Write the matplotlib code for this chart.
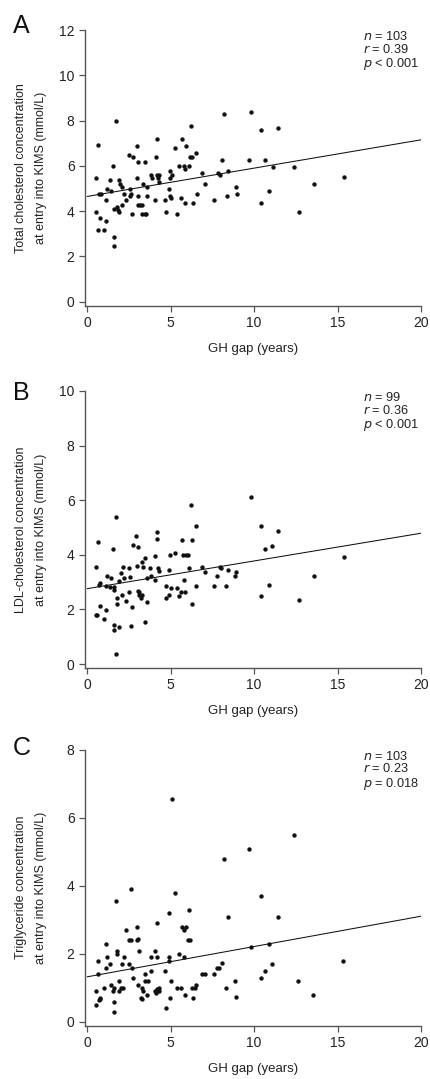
import matplotlib
matplotlib.use("Agg")
import matplotlib.pyplot as plt
import numpy as np

plt.rcParams['font.family'] = ['Liberation Sans', 'DejaVu Sans']

# --- data ---
# Panel A: total cholesterol
gap_a = [0.66, 1.72, 0.54, 0.54, 0.62, 0.78, 0.98, 1.1, 0.7, 0.8, 1.1, 1.2, 1.38, 1.4, 1.52, 1.6,
         1.76, 1.82, 1.9, 1.92, 1.96, 2.06, 2.08, 2.18, 1.6, 1.6, 2.32, 2.48, 2.58, 2.56, 2.62, 2.66,
         2.76, 2.98, 2.98, 3.02, 3.04, 3.04, 3.16, 3.26, 3.32, 3.3, 3.44, 3.48, 3.52, 3.6, 3.6, 3.8,
         3.88, 4.04, 4.14, 4.18, 4.2, 4.24, 4.3, 4.28, 4.66, 4.74, 4.94, 4.96, 4.92, 4.98, 5.04, 5.08,
         5.26, 5.4, 5.48, 5.62, 5.68, 5.78, 5.84, 5.9, 5.88, 6.08, 6.2, 6.14, 6.28, 6.32, 6.52, 6.56,
         6.9, 7.06, 7.6, 7.82, 7.98, 8.08, 8.2, 8.36, 8.46, 8.9, 8.98, 9.82, 9.72,
         10.44, 11.44, 10.68, 11.1, 12.38, 15.36, 13.56, 10.9, 10.44, 12.66]
chol_a = [6.9, 8.0, 5.48, 3.98, 3.18, 3.68, 3.18, 3.58, 4.77, 4.77, 4.48, 4.98, 5.38, 4.89, 5.98, 4.09,
          4.17, 4.05, 5.38, 3.98, 5.18, 4.27, 5.05, 4.77, 2.87, 2.47, 4.48, 6.48, 4.98, 4.68, 4.74, 3.89,
          6.38, 6.89, 5.48, 6.17, 4.68, 4.29, 4.29, 4.29, 5.18, 3.89, 3.89, 6.17, 3.89, 5.08, 4.68, 5.58,
          5.48, 4.48, 6.38, 7.19, 5.58, 5.48, 5.58, 5.27, 4.48, 3.98, 5.48, 5.77, 4.98, 4.68, 4.58, 5.58,
          6.77, 3.89, 5.98, 4.58, 7.19, 5.98, 5.88, 6.89, 4.37, 5.98, 7.78, 6.38, 6.38, 4.37, 6.58, 4.77,
          5.68, 5.18, 4.48, 5.68, 5.58, 6.27, 8.29, 4.68, 5.77, 5.08, 4.77, 8.38, 6.27,
          7.6, 7.69, 6.28, 5.97, 5.97, 5.49, 5.18, 4.88, 4.38, 3.98]

# Panel B: LDL cholesterol
gap_b = [0.52, 0.64, 0.5, 0.6, 0.7, 0.78, 0.78, 0.98, 1.1, 1.1, 1.2, 1.36, 1.4, 1.52, 1.6, 1.6,
         1.62, 1.62, 1.72, 1.8, 1.8, 1.9, 1.92, 2.0, 2.08, 2.14, 2.2, 2.34, 2.48, 2.5, 2.58, 2.66,
         2.64, 2.74, 2.94, 3.0, 3.02, 3.04, 3.08, 3.12, 3.2, 3.28, 3.3, 3.32, 3.44, 3.48, 3.56, 3.58,
         3.78, 3.84, 4.04, 4.08, 4.16, 4.18, 4.22, 4.3, 4.7, 4.74, 4.9, 4.92, 4.96, 5.04, 5.26, 5.38,
         5.48, 5.6, 5.68, 5.76, 5.82, 5.86, 5.9, 6.06, 6.12, 6.2, 6.3, 6.28, 6.52, 6.54, 6.88, 7.06,
         7.58, 7.78, 7.96, 8.04, 8.34, 8.46, 8.84, 8.92, 9.8,
         10.42, 11.42, 11.08, 10.68, 15.36, 13.56, 10.9, 10.44, 12.66, 1.72]
ldl_b = [3.55, 4.48, 1.8, 1.8, 2.89, 2.97, 2.13, 1.64, 1.99, 2.84, 3.23, 2.81, 3.16, 4.2, 2.83, 2.72,
         1.44, 1.25, 5.39, 2.4, 2.2, 3.05, 1.37, 3.34, 2.53, 3.55, 3.16, 2.29, 3.51, 2.62, 3.2, 2.08,
         1.39, 4.37, 4.69, 3.6, 2.68, 4.27, 2.62, 2.52, 2.4, 3.72, 2.54, 3.57, 1.55, 3.87, 3.14, 2.28,
         3.53, 3.24, 3.96, 3.09, 4.82, 4.59, 3.53, 3.39, 2.84, 2.4, 2.54, 3.43, 3.98, 2.78, 4.05, 2.78,
         2.5, 2.63, 4.53, 3.98, 3.07, 2.62, 4.0, 4.0, 3.51, 5.81, 2.18, 4.54, 5.04, 2.84, 3.57, 3.38,
         2.87, 3.24, 3.57, 3.51, 2.84, 3.46, 3.24, 3.36, 6.1,
         5.05, 4.88, 4.33, 4.21, 3.92, 3.22, 2.9, 2.49, 2.34, 0.37]

# Panel C: triglyceride
gap_c = [0.52, 0.54, 0.64, 0.64, 0.68, 0.74, 0.78, 0.98, 1.1, 1.1, 1.2, 1.36, 1.42, 1.52, 1.6, 1.6,
         1.6, 1.7, 1.78, 1.8, 1.9, 1.92, 2.0, 2.08, 2.14, 2.18, 2.34, 2.48, 2.5, 2.6, 2.64, 2.66,
         2.76, 2.98, 2.96, 3.04, 3.06, 3.12, 3.2, 3.3, 3.28, 3.36, 3.46, 3.48, 3.58, 3.62, 3.8, 3.82,
         4.04, 4.08, 4.12, 4.16, 4.2, 4.2, 4.28, 4.3, 4.68, 4.74, 4.9, 4.9, 4.92, 4.96, 5.02, 5.1,
         5.26, 5.38, 5.48, 5.6, 5.68, 5.78, 5.82, 5.86, 5.92, 6.04, 6.12, 6.16, 6.3, 6.32, 6.46, 6.54,
         6.88, 7.06, 7.58, 7.78, 7.92, 8.06, 8.18, 8.34, 8.44, 8.88, 8.94, 9.7, 9.8,
         12.36, 10.4, 11.4, 10.88, 15.32, 11.08, 10.66, 10.42, 12.64, 13.52]
tg_c = [0.49, 0.9, 1.79, 1.4, 0.63, 0.67, 0.7, 0.99, 2.29, 1.59, 1.89, 1.69, 1.08, 0.9, 0.59, 0.29,
        0.99, 3.54, 2.09, 2.0, 1.19, 0.9, 0.99, 1.69, 0.99, 1.89, 2.69, 2.39, 1.69, 2.39, 3.89, 1.59,
        1.28, 2.79, 2.39, 1.08, 2.42, 2.09, 0.69, 1.0, 0.66, 0.89, 1.19, 1.39, 0.79, 1.19, 1.5, 1.89,
        2.09, 0.9, 0.83, 2.9, 1.89, 0.96, 0.99, 0.9, 1.5, 0.39, 3.19, 1.79, 1.89, 0.69, 1.19, 6.54,
        3.79, 0.99, 2.0, 0.99, 2.79, 1.89, 2.69, 0.79, 2.79, 2.39, 3.29, 2.39, 0.99, 0.69, 0.99, 1.09,
        1.39, 1.39, 1.39, 1.59, 1.59, 1.73, 4.78, 0.99, 3.09, 1.19, 0.72, 5.09, 2.19,
        5.48, 3.69, 3.08, 2.29, 1.79, 1.69, 1.5, 1.29, 1.19, 0.78]

# regression lines: value at gap 0 and at gap 20
fit_a = [4.65, 7.15]
fit_b = [2.76, 4.79]
fit_c = [1.32, 3.10]

letters = ["A", "B", "C"]
ylabels = ["Total cholesterol concentration\nat entry into KIMS (mmol/L)",
           "LDL-cholesterol concentration\nat entry into KIMS (mmol/L)",
           "Triglyceride concentration\nat entry into KIMS (mmol/L)"]
ymaxes = [12, 10, 8]
ysteps = [2, 2, 2]
stats = [["103", "0.39", "< 0.001"],
         ["99", "0.36", "< 0.001"],
         ["103", "0.23", "= 0.018"]]
xticks = [0, 5, 10, 15, 20]

panels = [(gap_a, chol_a, fit_a), (gap_b, ldl_b, fit_b), (gap_c, tg_c, fit_c)]

W, H = 430, 1079
fig = plt.figure(figsize=(W / 100, H / 100), dpi=100)

# axes boxes in pixels: (top, bottom)
boxes = [(30, 305.7), (391, 668), (749.5, 1025.7)]
letter_base = [33, 400, 755]
left_px, right_px = 85, 421
spine_col = '#555555'
text_col = '#222222'

for i, (gx, gy, fit) in enumerate(panels):
    top, bot = boxes[i]
    ax = fig.add_axes([left_px / W, 1 - bot / H, (right_px - left_px) / W, (bot - top) / H])
    ymax = ymaxes[i]
    data_h = 273.0
    ax.set_ylim(-4 * ymax / data_h, ymax)
    ax.set_xlim(-2.3 * 20 / 334, 20)

    ax.scatter(gx, gy, s=10, color='#111111', linewidths=0, zorder=3)
    ax.plot([0, 20], fit, color='#111111', lw=0.75, zorder=2)

    for s in ['top', 'right']:
        ax.spines[s].set_visible(False)
    for s in ['left', 'bottom']:
        ax.spines[s].set_color(spine_col)
        ax.spines[s].set_linewidth(1.0)
    ax.set_xticks(xticks)
    ax.set_yticks(np.arange(0, ymax + 0.1, ysteps[i]))
    ax.tick_params(direction='out', length=4.5, width=0.9, color=spine_col,
                   labelsize=10, labelcolor=text_col, pad=3)

    ax.set_xlabel("GH gap (years)", fontsize=9.5, color=text_col, labelpad=9)
    ax.set_ylabel(ylabels[i], fontsize=9, color=text_col, linespacing=1.9)
    ax.yaxis.set_label_coords(-0.112, 0.5)

    n, r, p = stats[i]
    ax.text(16.5, ymax, "$n$ = " + n + "\n$r$ = " + r + "\n$p$ " + p,
            fontsize=9.2, color=text_col, va='top', ha='left', linespacing=1.0)

    fig.text(13 / W, 1 - letter_base[i] / H, letters[i], fontsize=18,
             color='#111111', va='baseline', ha='left')

fig.savefig("out.png", dpi=100)
